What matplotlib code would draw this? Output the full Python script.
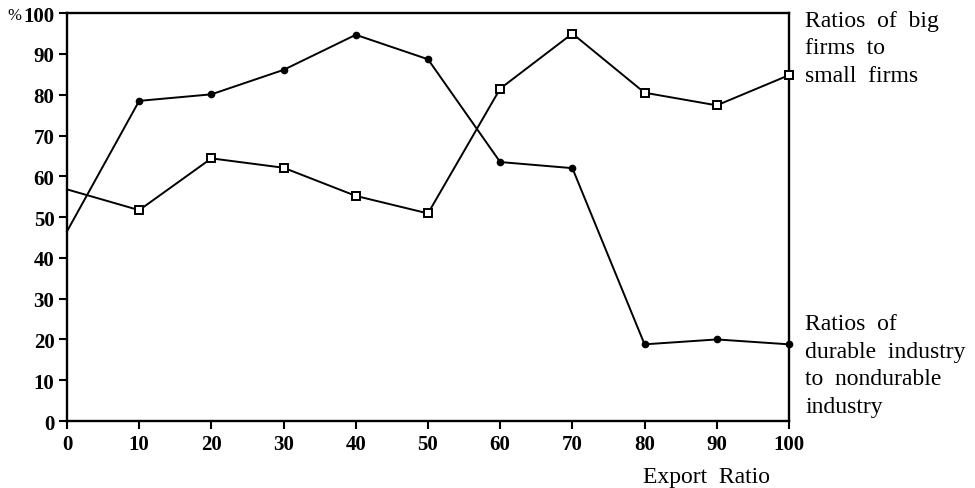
import matplotlib
matplotlib.use("Agg")
import matplotlib.pyplot as plt

export_ratio = [0, 10, 20, 30, 40, 50, 60, 70, 80, 90, 100]
big_to_small = [56.8, 51.7, 64.4, 62.1, 55.2, 50.9, 81.5, 95.0, 80.5, 77.4, 84.8]
durable_to_nondurable = [46.5, 78.5, 80.1, 86.1, 94.7, 88.7, 63.5, 62.0, 18.8, 20.0, 18.8]
x_ticks = [0, 10, 20, 30, 40, 50, 60, 70, 80, 90, 100]
y_ticks = [0, 10, 20, 30, 40, 50, 60, 70, 80, 90, 100]

plt.rcParams['font.family'] = ['Liberation Serif', 'DejaVu Serif']

fig = plt.figure(figsize=(9.75, 4.89), dpi=100)
ax = fig.add_axes([0.0687, 0.137, 0.7405, 0.834])

ax.plot(export_ratio[1:], big_to_small[1:], color='black', lw=1.4, marker='s',
        ms=5.5, mfc='white', mec='black', mew=1.4, zorder=3, clip_on=False)
ax.plot(export_ratio[:2], big_to_small[:2], color='black', lw=1.4, zorder=2, clip_on=False)
ax.plot(export_ratio[1:], durable_to_nondurable[1:], color='black', lw=1.4, marker='o',
        ms=4.5, mfc='black', mec='black', zorder=3, clip_on=False)
ax.plot(export_ratio[:2], durable_to_nondurable[:2], color='black', lw=1.4, zorder=2, clip_on=False)

ax.set_xlim(0, 100)
ax.set_ylim(0, 100)
ax.set_xticks(x_ticks)
ax.set_yticks(y_ticks)
ax.set_xticklabels([str(v) for v in x_ticks], fontsize=15, fontweight='bold')
ax.set_yticklabels([str(v) for v in y_ticks], fontsize=15, fontweight='bold')
ax.tick_params(direction='out', length=6, width=1.5, pad=3)
for s in ax.spines.values():
    s.set_linewidth(1.7)

fig.text(0.008, 0.968, '%', fontsize=12, va='center', ha='left')
fig.text(0.725, 0.012, 'Export  Ratio', fontsize=17, ha='center', va='baseline')
fig.text(0.826, 0.978, 'Ratios  of  big\nfirms  to\nsmall  firms', fontsize=17,
         ha='left', va='top', linespacing=1.4)
fig.text(0.826, 0.357, 'Ratios  of\ndurable  industry\nto  nondurable\nindustry', fontsize=17,
         ha='left', va='top', linespacing=1.4)

fig.savefig('out.png', dpi=100)
